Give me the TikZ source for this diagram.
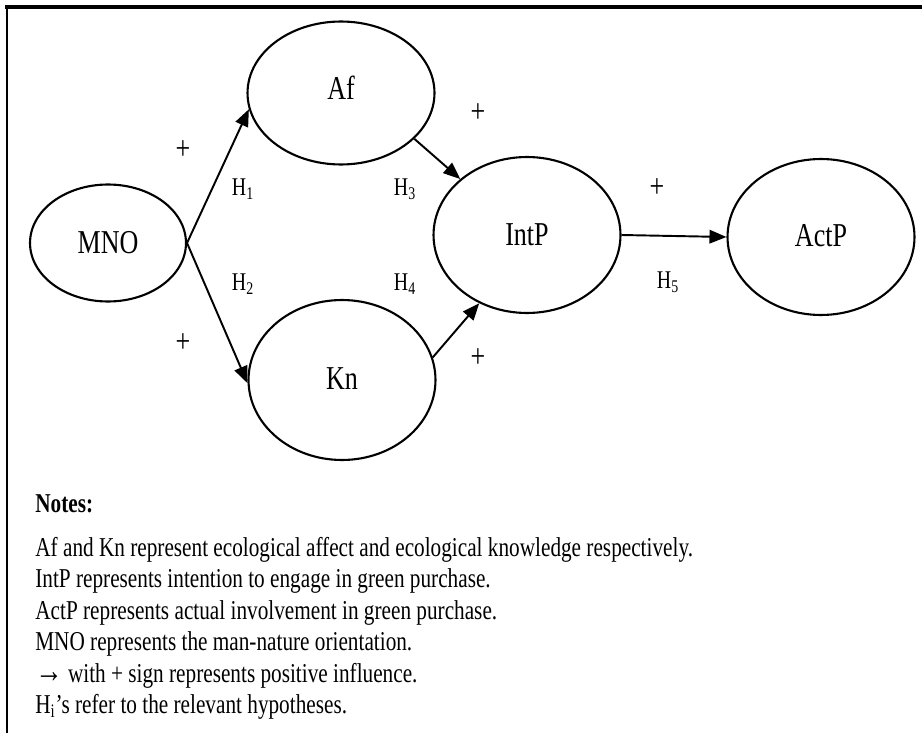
\documentclass[tikz,border=0pt]{standalone}
\usepackage{fontspec}
\setmainfont{Liberation Serif}[FakeStretch=0.78]
\usetikzlibrary{shapes.geometric,arrows.meta,positioning}

\begin{document}
\begin{tikzpicture}[
    x=0.02cm, y=-0.02cm,
    construct/.style={ellipse, draw, line width=1.2pt, inner sep=0pt, minimum width=3.74cm, minimum height=3.12cm, font=\fontsize{19}{22}\selectfont},
    arrow/.style={-{Triangle[length=0.34cm, width=0.27cm]}, line width=1.1pt},
    sign/.style={font=\fontsize{19}{22}\selectfont},
    hyp/.style={font=\fontsize{14.5}{17}\selectfont},
    note/.style={anchor=north west, inner sep=0pt, align=left, font=\fontsize{15.5}{17.9}\selectfont}
]
    \useasboundingbox (0,0) rectangle (922,733);
    \draw [line width=1.8pt] (5,7) -- (922,7);
    \draw [line width=1.1pt] (7,7) -- (7,733);

    % constructs
    \node [construct, minimum width=3.12cm, minimum height=2.34cm] (mno) at (108,243) {MNO};
    \node [construct, minimum height=2.86cm] (af) at (341,93) {\raisebox{6pt}{Af}};
    \node [construct, minimum height=3.2cm] (kn) at (342,380) {\raisebox{2pt}{Kn}};
    \node [construct] (intp) at (527,235) {IntP};
    \node [construct] (actp) at (821,237) {\raisebox{2pt}{ActP}};

    % paths
    \draw [arrow] (mno.east) -- (af.190);
    \draw [arrow] (mno.east) -- (kn.182);
    \draw [arrow] (af.-32) -- (intp.140);
    \draw [arrow] (kn.14) -- (intp.235);
    \draw [arrow] (intp.east) -- (actp.west);

    % signs and hypotheses
    \node [sign] (s1) at (183,150) {+};
    \node [sign] (s2) at (183,343) {+};
    \node [sign] (s3) at (478,113) {+};
    \node [sign] (s4) at (478,358) {+};
    \node [sign] (s5) at (657,188) {+};
    \node [hyp] (h1) at (243,189) {H\textsubscript{1}};
    \node [hyp] (h2) at (243,284) {H\textsubscript{2}};
    \node [hyp] (h3) at (405,189) {H\textsubscript{3}};
    \node [hyp] (h4) at (405,284) {H\textsubscript{4}};
    \node [hyp] (h5) at (668,282) {H\textsubscript{5}};

    % notes
    \node [note, anchor=base west, font=\bfseries\fontsize{15.5}{17.9}\selectfont] (notes) at (35,512) {Notes:};
    \node [note] (legend) at (35,537) {Af and Kn represent ecological affect and ecological knowledge respectively.\\
        IntP represents intention to engage in green purchase.\\
        ActP represents actual involvement in green purchase.\\
        MNO represents the man-nature orientation.\\
        {\bfseries\fontsize{20}{17.9}\selectfont →} with + sign represents positive influence.\\
        H\textsubscript{i}’s refer to the relevant hypotheses.};
\end{tikzpicture}
\end{document}
